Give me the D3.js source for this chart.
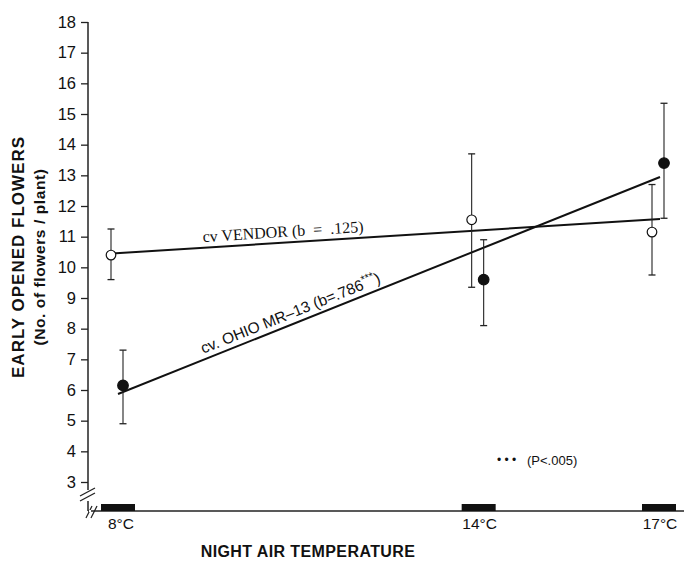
<!DOCTYPE html>
<html>
<head>
<meta charset="utf-8">
<script src="https://cdn.jsdelivr.net/npm/d3@7"></script>
<style>
  html, body { margin: 0; padding: 0; background: #fff; }
  svg { display: block; }
</style>
</head>
<body>
<svg id="chart" width="684" height="562"></svg>
<script>
// ---- data ----
const temps = [8, 14, 17];
const tempLabels = ["8\u00B0C", "14\u00B0C", "17\u00B0C"];
const yTicks = [3, 4, 5, 6, 7, 8, 9, 10, 11, 12, 13, 14, 15, 16, 17, 18];

const vendorMean = [10.4, 11.55, 11.15];
const vendorLow  = [9.6, 9.35, 9.75];
const vendorHigh = [11.25, 13.7, 12.7];

const ohioMean = [6.15, 9.6, 13.4];
const ohioLow  = [4.9, 8.1, 11.6];
const ohioHigh = [7.3, 10.9, 15.35];

const vendorFit = { intercept: 10.45, slope: 0.125 };  // value at 8°C, slope per °C
const ohioFit   = { intercept: 5.87,  slope: 0.786 };

// ---- layout ----
const svg = d3.select("#chart");
const x = d3.scaleLinear().domain([8, 17]).range([118, 659]);
const y = d3.scaleLinear().domain([3, 18]).range([482, 22]);
const axisX = 88, baseY = 511;
const SANS = "Liberation Sans, Arial, sans-serif";

// y axis
const yAxis = d3.axisLeft(y).tickValues(yTicks).tickSize(7).tickPadding(5).tickFormat(d3.format("d"));
const gy = svg.append("g").attr("transform", `translate(${axisX},0)`).call(yAxis);
gy.select(".domain").remove();
gy.selectAll(".tick line").attr("stroke", "#222").attr("stroke-width", 1.3);
gy.selectAll(".tick text").attr("font-family", SANS)
  .attr("font-size", 16.5).attr("fill", "#111");

// y axis line with break
svg.append("line").attr("x1", axisX).attr("x2", axisX).attr("y1", y(18)).attr("y2", 490)
  .attr("stroke", "#222").attr("stroke-width", 1.5);
svg.append("line").attr("x1", axisX).attr("x2", axisX).attr("y1", 501).attr("y2", baseY)
  .attr("stroke", "#222").attr("stroke-width", 1.5);
[0, 5].forEach(o => {
  svg.append("line").attr("x1", 80).attr("y1", 496 + o).attr("x2", 95).attr("y2", 488 + o)
    .attr("stroke", "#222").attr("stroke-width", 1.2);
});

// x axis baseline with break
svg.append("line").attr("x1", axisX).attr("x2", 684).attr("y1", baseY).attr("y2", baseY)
  .attr("stroke", "#222").attr("stroke-width", 1.5);
[0, 5].forEach(o => {
  svg.append("line").attr("x1", 86 + o).attr("y1", 518).attr("x2", 92 + o).attr("y2", 506)
    .attr("stroke", "#222").attr("stroke-width", 1.2);
});
svg.append("line").attr("x1", 89).attr("x2", 91).attr("y1", baseY).attr("y2", baseY)
  .attr("stroke", "#fff").attr("stroke-width", 2);

// temperature blocks on the axis
svg.selectAll("rect.blk").data(temps).join("rect").attr("class", "blk")
  .attr("x", d => x(d) - 17).attr("y", baseY - 7).attr("width", 34).attr("height", 7)
  .attr("fill", "#111");

// x tick labels
svg.selectAll("text.xt").data(temps).join("text").attr("class", "xt")
  .attr("x", (d, i) => x(d) + (i === 0 ? 3 : 1)).attr("y", 529)
  .attr("text-anchor", "middle").attr("font-family", SANS)
  .attr("font-size", 15.5).attr("fill", "#111")
  .text((d, i) => tempLabels[i]);

// axis titles
svg.append("text").attr("x", 308).attr("y", 557).attr("text-anchor", "middle")
  .attr("font-family", SANS).attr("font-weight", "bold")
  .attr("font-size", 16).attr("letter-spacing", 0.4).attr("fill", "#111").text("NIGHT AIR TEMPERATURE");

svg.append("text").attr("transform", "translate(24,257) rotate(-90)").attr("text-anchor", "middle")
  .attr("font-family", SANS).attr("font-weight", "bold")
  .attr("font-size", 17).attr("letter-spacing", 1).attr("fill", "#111").text("EARLY OPENED FLOWERS");
svg.append("text").attr("transform", "translate(45,257) rotate(-90)").attr("text-anchor", "middle")
  .attr("font-family", SANS).attr("font-weight", "bold")
  .attr("font-size", 15.5).attr("letter-spacing", 0.6).attr("fill", "#111").text("(No. of flowers / plant)");

// regression lines
const fitVal = (f, t) => f.intercept + f.slope * (t - 8);
function drawFit(f, x0off) {
  svg.append("line")
    .attr("x1", x(8) + x0off).attr("y1", y(fitVal(f, 8)))
    .attr("x2", x(17) + 1).attr("y2", y(fitVal(f, 17)))
    .attr("stroke", "#111").attr("stroke-width", 2);
}
drawFit(vendorFit, -6);
drawFit(ohioFit, 0);

// series drawing
function drawSeries(mean, low, high, dx, filled, r) {
  const g = svg.append("g");
  const pts = temps.map((t, i) => ({ t, m: mean[i], lo: low[i], hi: high[i] }));
  g.selectAll("line.eb").data(pts).join("line").attr("class", "eb")
    .attr("x1", d => x(d.t) + dx).attr("x2", d => x(d.t) + dx)
    .attr("y1", d => y(d.hi)).attr("y2", d => y(d.lo))
    .attr("stroke", "#222").attr("stroke-width", 1.1);
  ["hi", "lo"].forEach(k => {
    g.selectAll("line.cap" + k).data(pts).join("line").attr("class", "cap" + k)
      .attr("x1", d => x(d.t) + dx - 3.5).attr("x2", d => x(d.t) + dx + 3.5)
      .attr("y1", d => y(d[k])).attr("y2", d => y(d[k]))
      .attr("stroke", "#222").attr("stroke-width", 1.3);
  });
  g.selectAll("circle").data(pts).join("circle")
    .attr("cx", d => x(d.t) + dx).attr("cy", d => y(d.m)).attr("r", r)
    .attr("fill", filled ? "#111" : "#fff").attr("stroke", "#111").attr("stroke-width", 1.2);
}
drawSeries(vendorMean, vendorLow, vendorHigh, -7, false, 4.8);
drawSeries(ohioMean, ohioLow, ohioHigh, 5, true, 5.3);

// line labels
function angleOf(f) {
  const dx = x(17) - x(8), dy = y(fitVal(f, 17)) - y(fitVal(f, 8));
  return Math.atan2(dy, dx) * 180 / Math.PI;
}
function labelAt(f, t, off) {
  return [x(t), y(fitVal(f, t)) - off];
}
const vp = labelAt(vendorFit, 10.75, 6);
svg.append("text").attr("transform", `translate(${vp[0]},${vp[1]}) rotate(${angleOf(vendorFit)})`)
  .attr("text-anchor", "middle").attr("font-family", "Liberation Serif, Times New Roman, serif")
  .attr("font-size", 16).attr("fill", "#111")
  .text("cv VENDOR (b  =  .125)").attr("xml:space", "preserve").style("white-space", "pre");

const op = labelAt(ohioFit, 10.9, 6);
const ot = svg.append("text").attr("transform", `translate(${op[0]},${op[1]}) rotate(${angleOf(ohioFit)})`)
  .attr("text-anchor", "middle").attr("font-family", SANS)
  .attr("font-size", 15.5).attr("fill", "#111");
ot.append("tspan").text("cv. OHIO MR\u201313 (b=.786");
ot.append("tspan").attr("dy", -6).attr("font-size", 11).text("***");
ot.append("tspan").attr("dy", 6).text(")");

// significance note
svg.append("text").attr("x", 497).attr("y", 464).attr("font-family", SANS)
  .attr("font-size", 12).attr("fill", "#111").style("white-space", "pre")
  .text("\u2022 \u2022 \u2022");
svg.append("text").attr("x", 527).attr("y", 465).attr("font-family", SANS)
  .attr("font-size", 13).attr("fill", "#111").text("(P<.005)");
</script>
</body>
</html>
